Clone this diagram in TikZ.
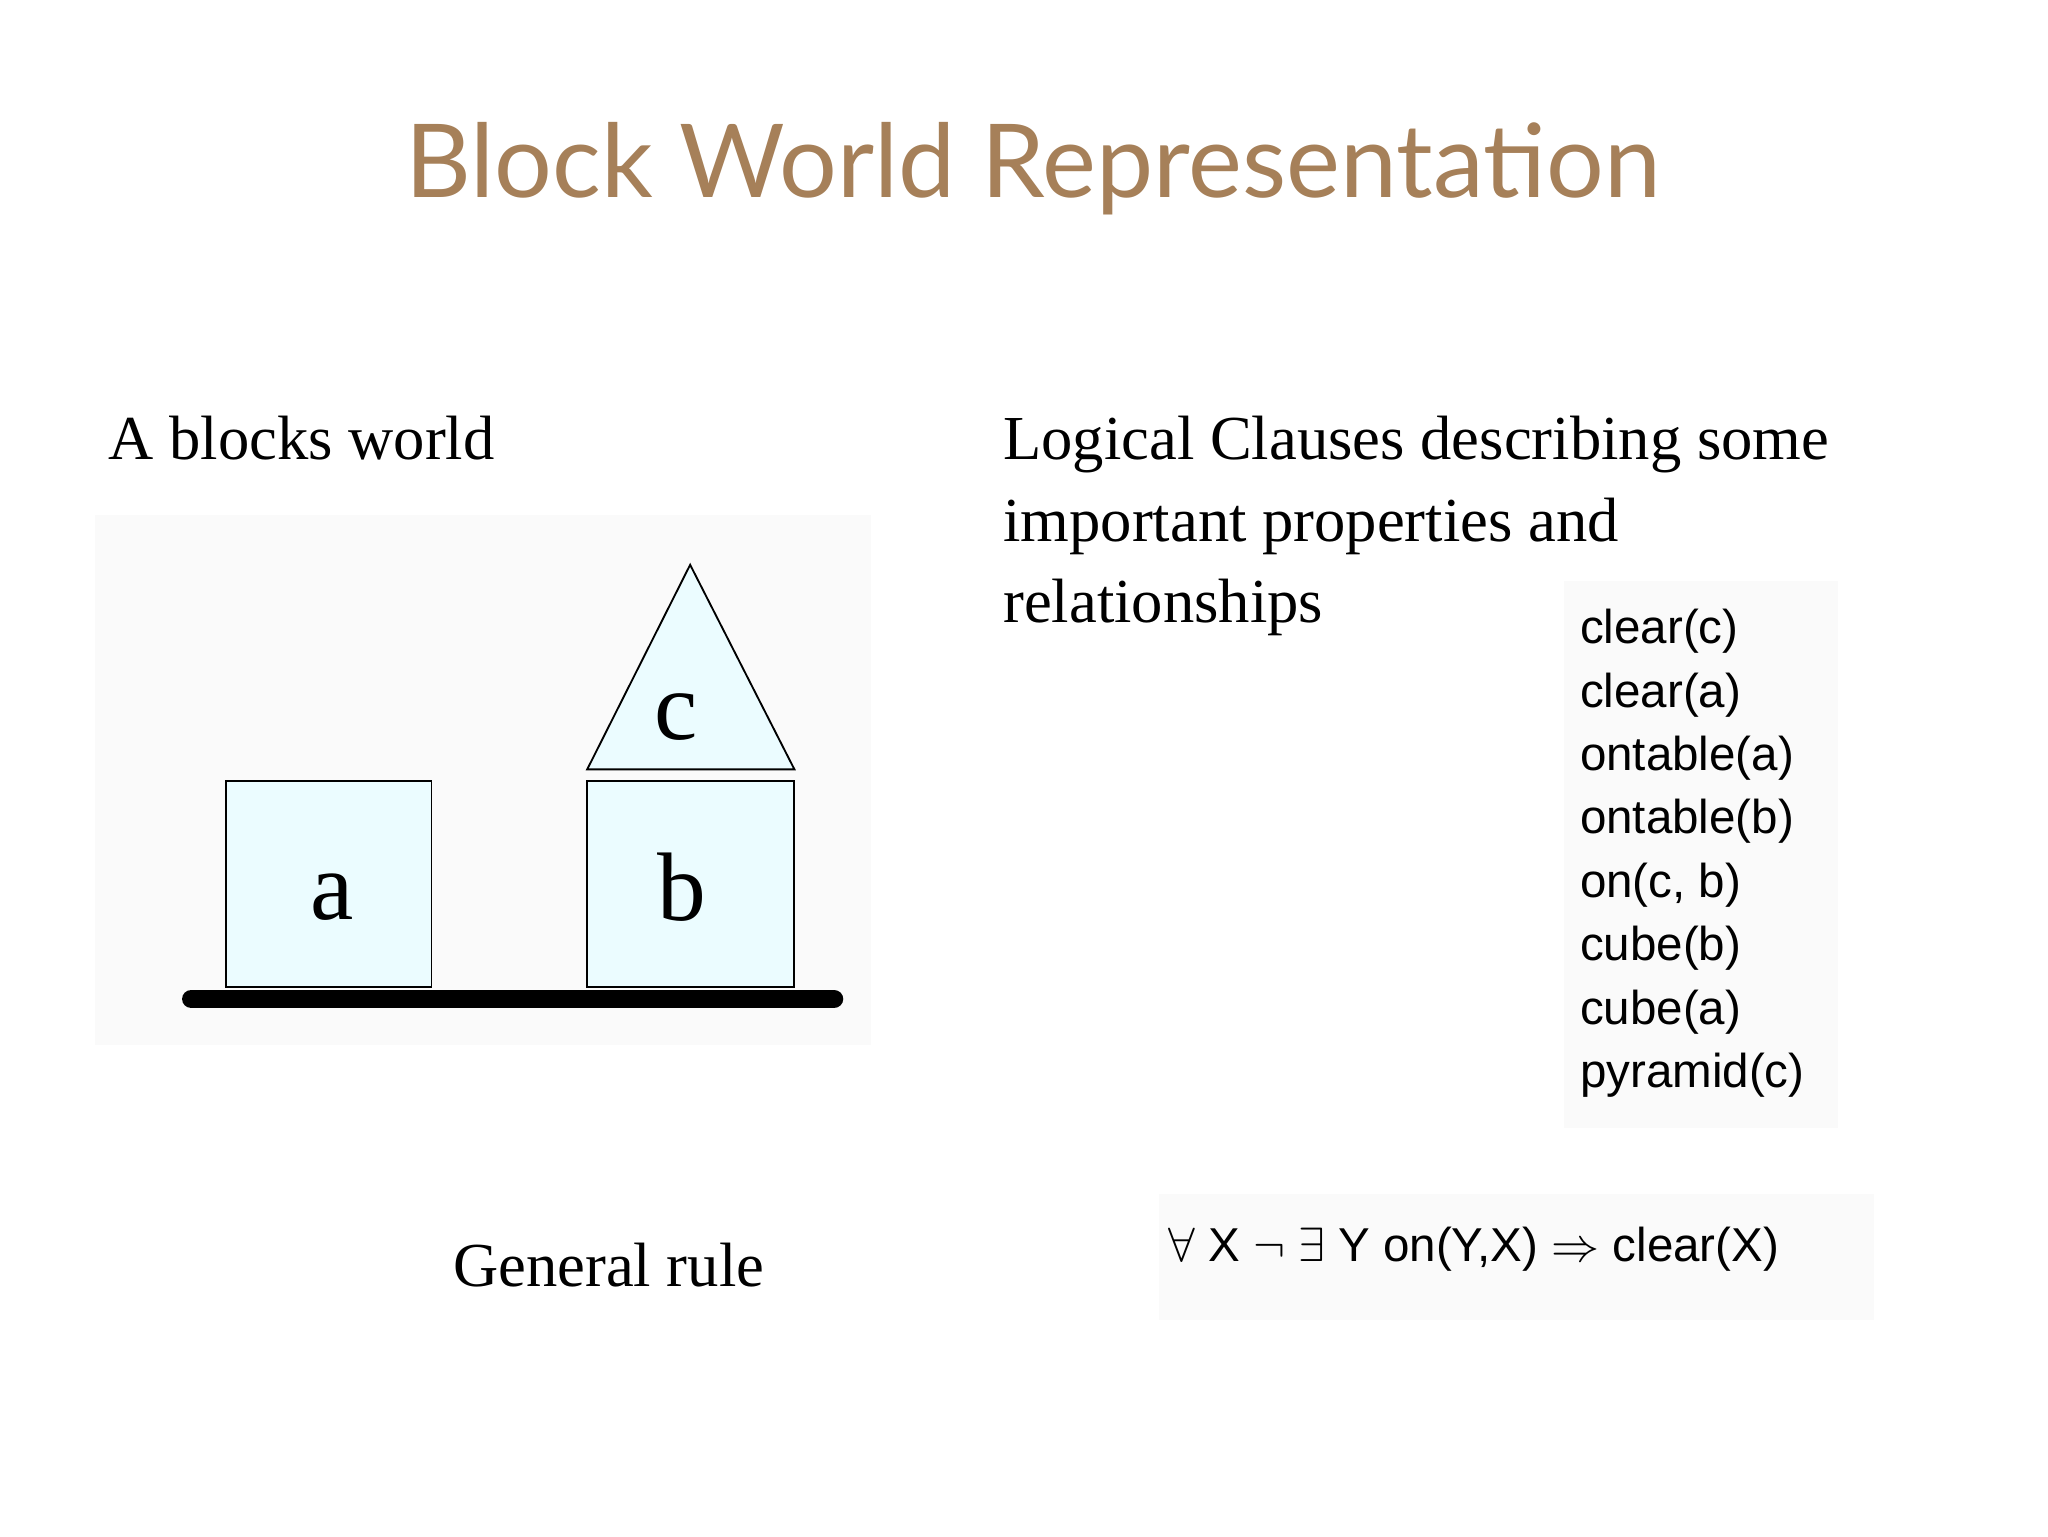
\documentclass[tikz,border=0pt]{standalone}
\usepackage{fontspec}
\setmainfont{Liberation Serif}
\newfontfamily\ttlfont{Lato}
\newfontfamily\hv{Liberation Sans}
\begin{document}
\begin{tikzpicture}[x=0.02cm,y=-0.02cm,
  blk/.style={draw=black,fill=blue!15!cyan!8,line width=0.8pt},
  body/.style={anchor=base west,font=\fontsize{27}{34}\selectfont,inner sep=0},
  cl/.style={anchor=base west,font=\hv\fontsize{20.5}{24}\selectfont,inner sep=0},
  letter/.style={font=\fontsize{42}{42}\selectfont}]
\useasboundingbox (0,0) rectangle (1552,1164);
\fill[white] (0,0) rectangle (1552,1164);
\node[font=\ttlfont\fontsize{44}{50}\selectfont,text=brown!60!gray] (title) at (783,128) {Block World Representation};
\node[body] (t1) at (82,348) {A blocks world};
\node[body] (t2) at (760,348) {Logical Clauses describing some};
\node[body] (t3) at (760,410) {important properties and};
\node[body] (t4) at (760,472) {relationships};
\node[body] (t5) at (343,975) {General rule};
% blocks panel
\fill[gray!4] (72,390) rectangle (660,792);
\draw[blk] (171,592) rectangle (327,748);
\draw[blk] (445,592) rectangle (602,748);
\draw[blk] (523,428) -- (445,583) -- (602,583) -- cycle;
\draw[line width=8pt,line cap=round] (145,757) -- (632,757);
\node[letter] (la) at (252,680) {a};
\node[letter] (lb) at (517,672) {b};
\node[letter] (lc) at (512,543) {c};
% clauses
\fill[gray!4] (1185,440) rectangle (1393,855);
\foreach \t [count=\i from 0] in {clear(c),clear(a),ontable(a),ontable(b),{on(c, b)},cube(b),cube(a),pyramid(c)}
  \node[cl] (c\i) at (1197,488+48*\i) {\t};
\fill[gray!4] (878,905) rectangle (1420,1000);
\node[cl] (rule) at (885,956) {$\forall$ X $\neg$ $\exists$ Y on(Y,X) $\Rightarrow$ clear(X)};
\end{tikzpicture}
\end{document}
